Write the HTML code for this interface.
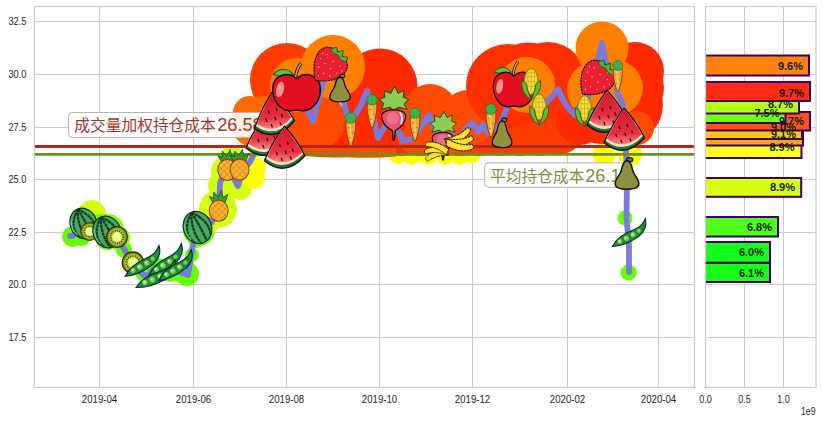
<!DOCTYPE html>
<html lang="zh"><head><meta charset="utf-8"><title>chart</title>
<style>html,body{margin:0;padding:0;background:#fff;overflow:hidden}svg{display:block}</style>
</head><body>
<svg width="822" height="422" viewBox="0 0 822 422" font-family="Liberation Sans, Noto Sans CJK SC, sans-serif">
<rect width="822" height="422" fill="#fff"/>
<path d="M34.5 21.5H694.5M705.5 21.5H816.0M34.5 74.5H694.5M705.5 74.5H816.0M34.5 127.5H694.5M705.5 127.5H816.0M34.5 179.5H694.5M705.5 179.5H816.0M34.5 232.5H694.5M705.5 232.5H816.0M34.5 284.5H694.5M705.5 284.5H816.0M34.5 337.5H694.5M705.5 337.5H816.0M99.5 6.5V387.5M193.5 6.5V387.5M286.5 6.5V387.5M379.5 6.5V387.5M472.5 6.5V387.5M567.5 6.5V387.5M658.5 6.5V387.5M744.5 6.5V387.5M783.5 6.5V387.5" stroke="#cccccc" stroke-width="1" fill="none"/>
<clipPath id="c2"><rect x="705.5" y="6.5" width="118.5" height="381.0"/></clipPath><g clip-path="url(#c2)">
<rect x="702.5" y="262.7" width="67.5" height="19.3" fill="#1aff1a" stroke="#3d0066" stroke-width="2"/>
<rect x="702.5" y="242.0" width="67.5" height="20.7" fill="#12ff1c" stroke="#3d0066" stroke-width="2"/>
<rect x="702.5" y="217.0" width="75.5" height="19.5" fill="#4dff1a" stroke="#3d0066" stroke-width="2"/>
<rect x="702.5" y="178.0" width="98.7" height="18.8" fill="#d9ff14" stroke="#3d0066" stroke-width="2"/>
<rect x="702.5" y="138.0" width="99.0" height="20.0" fill="#ffff1a" stroke="#3d0066" stroke-width="2"/>
<rect x="702.5" y="131.0" width="100.5" height="14.5" fill="#ffa21f" stroke="#3d0066" stroke-width="2"/>
<rect x="702.5" y="124.5" width="99.5" height="14.5" fill="#ffc61a" stroke="#3d0066" stroke-width="2"/>
<rect x="702.5" y="112.0" width="107.5" height="18.5" fill="#ff5219" stroke="#3d0066" stroke-width="2"/>
<rect x="702.5" y="104.0" width="83.0" height="19.0" fill="#73ff14" stroke="#3d0066" stroke-width="2"/>
<rect x="702.5" y="94.5" width="96.5" height="19.0" fill="#b5ff19" stroke="#3d0066" stroke-width="2"/>
<rect x="702.5" y="82.0" width="107.5" height="19.0" fill="#ff2a14" stroke="#3d0066" stroke-width="2"/>
<rect x="702.5" y="55.5" width="106.5" height="20.0" fill="#ff8210" stroke="#3d0066" stroke-width="2"/>
</g>
<g font-size="11" font-weight="bold" fill="#0b1f0b" text-anchor="end">
<text x="803" y="69.5">9.6%</text>
<text x="804" y="97">9.7%</text>
<text x="793" y="107.6">8.7%</text>
<text x="779.5" y="116.8">7.5%</text>
<text x="804" y="125.3">9.7%</text>
<text x="796" y="131">9.0%</text>
<text x="796" y="137.8">9.1%</text>
<text x="794.5" y="151.3">8.9%</text>
<text x="795" y="191">8.9%</text>
<text x="772" y="230.5">6.8%</text>
<text x="764" y="256">6.0%</text>
<text x="764" y="276.5">6.1%</text>
</g>
<clipPath id="c1"><rect x="34.5" y="6.5" width="660.0" height="381.0"/></clipPath><g clip-path="url(#c1)">

<defs>
<pattern id="hatch" width="4" height="4" patternUnits="userSpaceOnUse" patternTransform="rotate(45)"><rect width="4" height="4" fill="#ffb42e"/><path d="M0 0H4M0 0V4" stroke="#c8701a" stroke-width="0.9"/></pattern>
<linearGradient id="sg" x1="0" y1="0" x2="0" y2="1"><stop offset="0" stop-color="#d4142c"/><stop offset="0.7" stop-color="#e83040"/><stop offset="1" stop-color="#f58a80"/></linearGradient>
<g id="wm"><g transform="rotate(-22)"><ellipse rx="13.3" ry="15.6" fill="#47a862" stroke="#0a2a12" stroke-width="1.1"/>
<path d="M0,-15.3Q-16,-2 -8,12.5M0,-15.3Q-7,0 -2.5,15.3M0,-15.3Q3,0 3.5,15.2M0,-15.3Q13,-2 9,11.5" fill="none" stroke="#123a20" stroke-width="2.1" stroke-dasharray="3.2 0.5"/>
<path d="M-10.5,-7Q-13.5,1 -10,8.5" fill="none" stroke="#6cc884" stroke-width="1.2"/></g></g>
<g id="kiwi"><circle r="10" fill="#8a742c" stroke="#3a2a0a" stroke-width="1"/><circle r="8.3" fill="#9cc42c"/><circle r="6.2" fill="none" stroke="#1e2a0a" stroke-width="1.6" stroke-dasharray="0.7 1.5"/><circle r="4.7" fill="#f0fa8c"/></g>
<g id="pea"><path d="M-21,3.2Q-12,-4.6 4,-4.2Q15,-4 20,-8.5L22.5,-10.5Q21,0.5 9,4.2Q-8,8 -21,3.2Z" fill="#1d8a3c" stroke="#06301a" stroke-width="1.1"/>
<circle cx="-11.5" cy="1.2" r="2.5" fill="#7fcf5a"/><circle cx="-4" cy="0.8" r="2.8" fill="#7fcf5a"/><circle cx="4" cy="0.2" r="2.7" fill="#7fcf5a"/><circle cx="11.2" cy="-1.2" r="2.1" fill="#7fcf5a"/>
<circle cx="-12" cy="0.6" r="0.9" fill="#e8ffd8"/><circle cx="-4.5" cy="0.2" r="0.9" fill="#e8ffd8"/><circle cx="3.5" cy="-0.4" r="0.9" fill="#e8ffd8"/></g>
<g id="pine"><path d="M-5,-5L-8.5,-11L-4.5,-9.5L-4.5,-15L-0.5,-10.5L2.5,-16.5L4,-10L8.5,-13L5.5,-5Z" fill="#3a9a3a" stroke="#1a5a1e" stroke-width="0.8"/><ellipse cx="0" cy="2" rx="8.6" ry="9.6" fill="url(#hatch)" stroke="#8a4a10" stroke-width="1"/></g>
<g id="slice"><path d="M0,-21Q12,-8 20.5,8.5Q1,30.5 -20,13.5Q-12,-5 0,-21Z" fill="#1c7a30" stroke="#111" stroke-width="1.4" stroke-linejoin="round"/>
<path d="M0,-20Q11,-8 18.8,6.8Q1,26 -18.4,11.4Q-11,-5 0,-20Z" fill="#f4dcc8"/><path d="M0,-20Q10.5,-8 17.6,5.2Q1,22.5 -17.2,9.4Q-10.5,-5 0,-20Z" fill="url(#sg)"/>
<path d="M-5,-3l.8,2.4M3,-5l.8,2.4M-8,5l.8,2.4M1,4l.8,2.4M8,1.5l.8,2.4M-3,11l.8,2.2M6,9.5l.8,2.2" stroke="#1a0a0a" stroke-width="1.3" stroke-linecap="round"/></g>
<g id="apple"><path d="M-1,-13Q0,-22 4.5,-27" fill="none" stroke="#111" stroke-width="3"/><path d="M-1,-13Q0,-22 4.5,-27" fill="none" stroke="#d9a868" stroke-width="1.4"/>
<path d="M-3,-16Q-11,-26 -22,-16.5Q-12,-13 -3,-16Z" fill="#5cc244" stroke="#145a1e" stroke-width="1"/>
<path d="M0,-12C6,-19.5 22.5,-17 22.5,-2C22.5,12 12,19.5 4,18.2C1,17.7 -1,17.7 -4,18.2C-12,19.5 -22.5,12 -22.5,-2C-22.5,-17 -6,-19.5 0,-12Z" fill="#e2101e" stroke="#111" stroke-width="1.4"/>
<ellipse cx="-15.5" cy="-2" rx="3.6" ry="7.5" fill="#f3948c" transform="rotate(12 -15.5 -2)"/></g>
<g id="straw"><path d="M0,18C-13,9.5 -18,-3 -14,-10.5C-9,-18 9,-18 14,-10.5C18,-3 13,9.5 0,18Z" fill="#ea2032" stroke="#111" stroke-width="1" stroke-dasharray="2 0.7"/>
<path d="M-8,-7h.1M0,-6h.1M8,-7h.1M-10,0h.1M-4,0.5h.1M3,0.5h.1M10,0h.1M-6,7h.1M1,8h.1M7,6h.1M-1,13h.1M-5,-12h.1M4,-12h.1M-12,-5h.1M12,-5h.1" stroke="#ffb9a8" stroke-width="1.2" stroke-linecap="round"/>
<path d="M-9,-13L-6,-18L-2.5,-15L0.5,-20L3.5,-15L8,-18L9.5,-13L4,-12L0,-13.5L-4,-12Z" fill="#55b63e" stroke="#1a5a1e" stroke-width="0.8"/></g>
<g id="pear"><ellipse cx="2.4" cy="-12.5" rx="2.8" ry="1.8" fill="#75752f" stroke="#111" stroke-width="1"/><path d="M0,-11.5C3.6,-11.5 4,-6.5 5,-3C6,1 10.3,4 10.3,8.4C10.3,12.3 5,13.3 0,13.3C-5,13.3 -10.3,12.3 -10.3,8.4C-10.3,4 -6,1 -5,-3C-4,-6.5 -3.6,-11.5 0,-11.5Z" fill="#8f8f3f" stroke="#111" stroke-width="1.3"/></g>
<g id="carrot"><path d="M-4.5,-8Q0,-10.5 4.5,-8Q5.2,-1 1.3,12.5Q0,15 -1.3,12.5Q-5.2,-1 -4.5,-8Z" fill="#f7a42a" stroke="#8a4a08" stroke-width="1"/><path d="M-1,-6Q0.5,2 0,9" stroke="#fcc768" stroke-width="2" fill="none" stroke-linecap="round"/><path d="M-3,-3h2.6M0.5,1.5h2.4M-2,6h2" stroke="#b8681a" stroke-width="0.7"/><circle cx="0" cy="-12" r="4.9" fill="#3cb050" stroke="#1a6a2a" stroke-width="0.9" stroke-dasharray="1.5 1"/></g>
<g id="radish"><path d="M0,-9L-4,-12L-12.5,-10L-10,-15.5L-14.5,-20L-9,-22L-9.5,-28.5L-3,-26L1,-33L4.5,-26L10.5,-29L9.5,-22L15,-20L10.5,-15L13.5,-10L5,-12Z" fill="#8fcb4e" stroke="#24501a" stroke-width="1.1" stroke-linejoin="round"/>
<path d="M-12,-3.5C-12,-11.5 12,-11.5 12,-3.5C12,5 5,9.5 1.6,11.5L0.6,21L-0.6,21L-1.2,11.5C-5,9.5 -12,5 -12,-3.5Z" fill="#e6566f" stroke="#111" stroke-width="1.3" stroke-linejoin="round"/>
<ellipse cx="-1" cy="-1" rx="6" ry="6" fill="#ee7f92" opacity=".7"/><path d="M6.5,-6.5Q9.5,-2 7.5,4" fill="none" stroke="#fde0e6" stroke-width="1.8" stroke-linecap="round"/></g>
<g id="corn"><ellipse cx="0" cy="-3" rx="6.2" ry="13" fill="#f8de3c" stroke="#8a7a1a" stroke-width="1"/>
<path d="M-3,-14V9M0,-16V10M3,-14V9M-6,-8H6M-6.2,-3H6.2M-6,2H6M-5,7H5M-5,-12H5" stroke="#c9a81e" stroke-width="0.7" fill="none"/>
<path d="M-8.5,-4Q-10,9 0,15.5Q-3.5,7 -4.5,-1Z" fill="#6db630" stroke="#2a5a1a" stroke-width="0.9"/><path d="M8.5,-4Q10,9 0,15.5Q3.5,7 4.5,-1Z" fill="#6db630" stroke="#2a5a1a" stroke-width="0.9"/></g>
<g id="banana"><g fill="#ffe02e" stroke="#2a1f06" stroke-width="1" stroke-dasharray="2.5 0.6">
<path d="M0,-2.5Q-14,-10 -26.5,-5Q-29,-2 -26,0Q-14,-2.5 -1,4.5Z" transform="rotate(-26)"/><path d="M0,-2.5Q-14,-10 -26.5,-5Q-29,-2 -26,0Q-14,-2.5 -1,4.5Z" transform="rotate(-6)"/><path d="M0,-2.5Q-14,-10 -26.5,-5Q-29,-2 -26,0Q-14,-2.5 -1,4.5Z" transform="rotate(13)"/></g></g>
</defs><circle cx="72.8" cy="236.6" r="10.5" fill="#66ff00"/><circle cx="82" cy="238" r="8" fill="#66ff00"/><circle cx="92" cy="214" r="14" fill="#d2ff14"/><circle cx="100" cy="226" r="12" fill="#66ff00"/><circle cx="108" cy="230" r="16" fill="#80ff00"/><circle cx="108" cy="237" r="13" fill="#66ff00"/><circle cx="118" cy="238" r="12" fill="#80ff00"/><circle cx="124" cy="250" r="8" fill="#66ff00"/><circle cx="133" cy="263" r="11" fill="#66ff00"/><circle cx="145" cy="272" r="10" fill="#66ff00"/><circle cx="158" cy="268" r="10" fill="#66ff00"/><circle cx="170" cy="272" r="10" fill="#66ff00"/><circle cx="180" cy="272" r="10" fill="#66ff00"/><circle cx="187" cy="274" r="12" fill="#66ff00"/><circle cx="192" cy="255" r="7" fill="#66ff00"/><circle cx="196" cy="240" r="8" fill="#66ff00"/><circle cx="199" cy="230" r="16" fill="#66ff00"/><circle cx="208" cy="222" r="12" fill="#d2ff14"/><circle cx="218" cy="209" r="19" fill="#d2ff14"/><circle cx="222" cy="185" r="14" fill="#d2ff14"/><circle cx="228" cy="172" r="17" fill="#d2ff14"/><circle cx="238" cy="174" r="17" fill="#d2ff14"/><circle cx="240" cy="188" r="12" fill="#d2ff14"/><circle cx="232" cy="156" r="11" fill="#d2ff14"/><circle cx="253" cy="177" r="12" fill="#ffff00"/><circle cx="257" cy="167" r="9" fill="#ffff00"/><circle cx="250" cy="161" r="9" fill="#ffff00"/><circle cx="398" cy="155" r="9" fill="#ffff00"/><circle cx="412" cy="156" r="9" fill="#ffff00"/><circle cx="428" cy="155" r="10" fill="#ffff00"/><circle cx="445" cy="156" r="9" fill="#ffff00"/><circle cx="460" cy="155" r="10" fill="#ffff00"/><circle cx="472" cy="154" r="9" fill="#ffff00"/><circle cx="604.3" cy="154.3" r="11.5" fill="#ffff00"/><circle cx="630" cy="154" r="12" fill="#ffff00"/><circle cx="300" cy="132" r="24" fill="#ff4b00"/><circle cx="320" cy="132" r="24" fill="#ff4b00"/><circle cx="340" cy="132" r="24" fill="#ff2a00"/><circle cx="360" cy="132" r="24" fill="#ff2a00"/><circle cx="380" cy="132" r="24" fill="#ff2a00"/><circle cx="400" cy="132" r="24" fill="#ff2a00"/><circle cx="420" cy="132" r="24" fill="#ff4b00"/><circle cx="440" cy="132" r="24" fill="#ff4b00"/><circle cx="460" cy="132" r="24" fill="#ff4b00"/><circle cx="480" cy="132" r="24" fill="#ff3c00"/><circle cx="500" cy="132" r="24" fill="#ff3c00"/><circle cx="520" cy="132" r="24" fill="#ff3c00"/><circle cx="540" cy="132" r="24" fill="#ff3c00"/><circle cx="560" cy="130" r="24" fill="#ff3c00"/><circle cx="580" cy="121" r="24" fill="#ff2a00"/><circle cx="600" cy="120" r="24" fill="#ff2a00"/><circle cx="287" cy="80" r="37" fill="#ff3c00"/><circle cx="250" cy="113" r="17" fill="#ff6a00"/><circle cx="251" cy="128" r="18" fill="#ff6a00"/><circle cx="262" cy="115" r="19" fill="#ff6a00"/><circle cx="315" cy="120" r="30" fill="#ff4b00"/><circle cx="380" cy="86" r="37.5" fill="#ff2a00"/><circle cx="378" cy="105" r="36" fill="#ff2a00"/><circle cx="297" cy="85" r="27" fill="#ff7f00"/><circle cx="333" cy="67" r="32" fill="#ff7f00"/><circle cx="430" cy="112" r="28" fill="#ff4b00"/><circle cx="468" cy="118" r="28" fill="#ff4b00"/><circle cx="508" cy="86" r="42" fill="#ff3000"/><circle cx="548" cy="80" r="38" fill="#ff3000"/><circle cx="528" cy="83" r="40.5" fill="#ff3000"/><circle cx="527" cy="85" r="28" fill="#ff7f00"/><circle cx="635" cy="71" r="29" fill="#ff2a00"/><circle cx="625" cy="105" r="38" fill="#ff2a00"/><circle cx="630" cy="88" r="34" fill="#ff2a00"/><circle cx="637" cy="128" r="17" fill="#ff4b00"/><circle cx="602" cy="48" r="26.5" fill="#ff7f00"/><circle cx="595" cy="90" r="28" fill="#ff7f00"/><circle cx="615" cy="88" r="28" fill="#ff7f00"/><circle cx="625" cy="218" r="7.5" fill="#66ff00"/><circle cx="628.6" cy="272.6" r="8" fill="#66ff00"/><path d="M300 147.5H396V156.5Q372 158.5 348 157.2Q324 158.5 300 155.5Z" fill="#ff4b00"/>
<path d="M70 236L73 236L82 224L91 233L99 222L106 232L117 237L124 249L132 262L138 270L146 277L155 268L165 278L175 270L188 275L192 250L197 228L205 218L212 222L219 208L220 183L225 170L232 175L238 186L243 170L250 162L256 150L262 135L270 120L280 105L290 95L298 100L307 110L313 121L318 100L324 80L329 66L335 75L341 92L345 107L349 122L355 115L361 105L367 91L372 110L378 138L385 126L393 118L398 130L403 141L412 139L420 128L429 115L435 130L440 138L445 140L452 135L460 140L466 128L473 123L478 132L483 125L488 133L492 122L498 130L502 120L506 110L510 90L520 85L530 83L536 100L540 108L548 101L553 95L558 89L562 98L566 105L570 110L575 115L580 105L585 110L590 90L595 78L598 60L602 43L606 63L611 75L617 75L617 92L623 105L625 125L626 150L627 174L626.5 218L629 246L629 272" fill="none" stroke="#7a7adc" stroke-width="5.8" stroke-linejoin="round" stroke-linecap="round"/>
<path d="M34.5 146.4H694.5" stroke="#b0281e" stroke-width="3"/>
<path d="M34.5 154.4H694.5" stroke="#6b8e23" stroke-width="2.8"/>
<g font-size="15.6">
<rect x="68.5" y="112.5" width="203" height="24.9" rx="4" fill="#fff" fill-opacity="0.9" stroke="#b5b5b5" stroke-width="1"/>
<text x="74.3" y="131" fill="#a5352b" textLength="141.5" lengthAdjust="spacingAndGlyphs">成交量加权持仓成本</text>
<text x="217.2" y="131" fill="#a5352b" font-size="17.8" textLength="45.5" lengthAdjust="spacingAndGlyphs">26.58</text>
<rect x="484.6" y="162.8" width="142.5" height="24.6" rx="4" fill="#fff" fill-opacity="0.9" stroke="#b5b5b5" stroke-width="1"/>
<text x="490" y="181.6" fill="#7d9040" textLength="94.4" lengthAdjust="spacingAndGlyphs">平均持仓成本</text>
<text x="585.2" y="181.6" fill="#7d9040" font-size="17.8" textLength="45.5" lengthAdjust="spacingAndGlyphs">26.19</text>
</g>
<use href="#wm" transform="translate(83.5 223.5)"/><use href="#kiwi" transform="translate(89.7 231.5) scale(0.9)"/><use href="#wm" transform="translate(107 232) scale(1.04)"/><use href="#kiwi" transform="translate(117 237) scale(1.04)"/><use href="#kiwi" transform="translate(133 262.7) scale(1.08)"/><use href="#pea" transform="translate(143 264.5) rotate(-25)"/><use href="#pea" transform="translate(166 263) rotate(-27)"/><use href="#pea" transform="translate(156 277.5) rotate(-18) scale(1.05)"/><use href="#pea" transform="translate(176 268.5) rotate(-26) scale(0.98)"/><use href="#wm" transform="translate(197.5 227.5) scale(1.05)"/><use href="#pine" transform="translate(218.7 208.5) scale(1.1)"/><use href="#pine" transform="translate(227.3 167.7) scale(1.1)"/><use href="#pine" transform="translate(239.6 167.5) scale(1.1)"/><use href="#slice" transform="translate(266 134.5)"/><use href="#slice" transform="translate(273.5 113.5) rotate(-4)"/><use href="#slice" transform="translate(284.4 147.3)"/><use href="#apple" transform="translate(296.5 91.5) scale(1.06 1.05)"/><use href="#straw" transform="translate(328.5 66) rotate(42) scale(1.08)"/><use href="#pear" transform="translate(340 88.5)"/><use href="#carrot" transform="translate(350.8 131) scale(1.08)"/><use href="#carrot" transform="translate(372 112.8) scale(1.08)"/><use href="#radish" transform="translate(393.7 119.3)"/><use href="#carrot" transform="translate(415 126) scale(1.08)"/><use href="#radish" transform="translate(443 141) scale(0.9)"/><use href="#banana" transform="translate(448 151.5) scale(0.85)"/><use href="#banana" transform="translate(446 143) rotate(-10) scale(-1 -1)"/><use href="#carrot" transform="translate(491 122) scale(1.08)"/><use href="#pear" transform="translate(502 133.3) scale(0.96 1.08)"/><use href="#apple" transform="translate(514 88.3) scale(0.92 1.0)"/><use href="#corn" transform="translate(531.2 84.5) scale(1.1 0.98)"/><use href="#corn" transform="translate(539.2 110) scale(1.1 0.98)"/><use href="#corn" transform="translate(584.5 111.5) scale(1.08 0.98)"/><use href="#straw" transform="translate(595.7 79.3) rotate(42) scale(1.1)"/><use href="#carrot" transform="translate(617.8 77.5)"/><use href="#slice" transform="translate(607 111.4)"/><use href="#slice" transform="translate(624 129.3)"/><use href="#pear" transform="translate(627 174) scale(1.15)"/><use href="#pea" transform="translate(629.5 236) rotate(-23) scale(0.95)"/>
</g>
<rect x="34.5" y="6.5" width="660.0" height="381.0" fill="none" stroke="#cccccc" stroke-width="1.2"/>
<rect x="705.5" y="6.5" width="110.5" height="381.0" fill="none" stroke="#cccccc" stroke-width="1.2"/>
<g font-size="10" fill="#262626">
<text x="26.4" y="25.1" text-anchor="end" textLength="18" lengthAdjust="spacingAndGlyphs">32.5</text>
<text x="26.4" y="78.1" text-anchor="end" textLength="18" lengthAdjust="spacingAndGlyphs">30.0</text>
<text x="26.4" y="131.1" text-anchor="end" textLength="18" lengthAdjust="spacingAndGlyphs">27.5</text>
<text x="26.4" y="183.1" text-anchor="end" textLength="18" lengthAdjust="spacingAndGlyphs">25.0</text>
<text x="26.4" y="236.1" text-anchor="end" textLength="18" lengthAdjust="spacingAndGlyphs">22.5</text>
<text x="26.4" y="288.1" text-anchor="end" textLength="18" lengthAdjust="spacingAndGlyphs">20.0</text>
<text x="26.4" y="341.1" text-anchor="end" textLength="18" lengthAdjust="spacingAndGlyphs">17.5</text>
<text x="99.5" y="402.5" text-anchor="middle" textLength="35.5" lengthAdjust="spacingAndGlyphs">2019-04</text>
<text x="193.5" y="402.5" text-anchor="middle" textLength="35.5" lengthAdjust="spacingAndGlyphs">2019-06</text>
<text x="286.5" y="402.5" text-anchor="middle" textLength="35.5" lengthAdjust="spacingAndGlyphs">2019-08</text>
<text x="379.5" y="402.5" text-anchor="middle" textLength="35.5" lengthAdjust="spacingAndGlyphs">2019-10</text>
<text x="472.5" y="402.5" text-anchor="middle" textLength="35.5" lengthAdjust="spacingAndGlyphs">2019-12</text>
<text x="567.5" y="402.5" text-anchor="middle" textLength="35.5" lengthAdjust="spacingAndGlyphs">2020-02</text>
<text x="658.5" y="402.5" text-anchor="middle" textLength="35.5" lengthAdjust="spacingAndGlyphs">2020-04</text>
<text x="705.5" y="402.5" text-anchor="middle" textLength="12.5" lengthAdjust="spacingAndGlyphs">0.0</text>
<text x="744.5" y="402.5" text-anchor="middle" textLength="12.5" lengthAdjust="spacingAndGlyphs">0.5</text>
<text x="783.5" y="402.5" text-anchor="middle" textLength="12.5" lengthAdjust="spacingAndGlyphs">1.0</text>
<text x="815.5" y="414.5" text-anchor="end" textLength="14.5" lengthAdjust="spacingAndGlyphs">1e9</text>
</g>
</svg>
</body></html>
